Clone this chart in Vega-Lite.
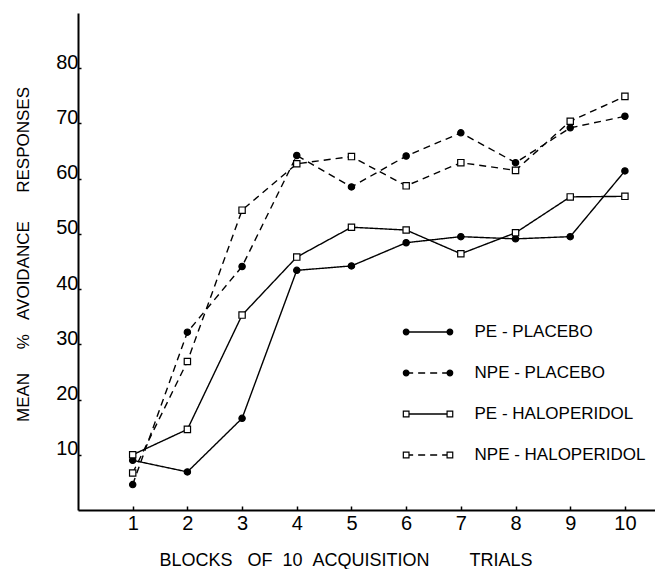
{
  "$schema": "https://vega.github.io/schema/vega-lite/v6.json",
  "width": 577,
  "height": 497,
  "autosize": {"type": "none"},
  "padding": {"left": 78, "top": 13, "right": 0, "bottom": 59},
  "background": "white",
  "config": {
    "view": {"stroke": null},
    "font": "Liberation Sans",
    "axis": {
      "grid": false,
      "domainColor": "black",
      "domainWidth": 2,
      "tickColor": "black",
      "tickWidth": 1.5,
      "labelColor": "black",
      "titleColor": "black",
      "labelFont": "Liberation Sans",
      "titleFont": "Liberation Sans",
      "titleFontWeight": "normal",
      "labelFlush": false,
      "labelOverlap": false
    }
  },
  "datasets": {
    "series": [
      {"block": 1, "group": "PE - PLACEBO", "value": 9.0},
      {"block": 2, "group": "PE - PLACEBO", "value": 6.9},
      {"block": 3, "group": "PE - PLACEBO", "value": 16.6},
      {"block": 4, "group": "PE - PLACEBO", "value": 43.4},
      {"block": 5, "group": "PE - PLACEBO", "value": 44.2},
      {"block": 6, "group": "PE - PLACEBO", "value": 48.4},
      {"block": 7, "group": "PE - PLACEBO", "value": 49.5},
      {"block": 8, "group": "PE - PLACEBO", "value": 49.1},
      {"block": 9, "group": "PE - PLACEBO", "value": 49.5},
      {"block": 10, "group": "PE - PLACEBO", "value": 61.4},
      {"block": 1, "group": "NPE - PLACEBO", "value": 4.6},
      {"block": 2, "group": "NPE - PLACEBO", "value": 32.2},
      {"block": 3, "group": "NPE - PLACEBO", "value": 44.1},
      {"block": 4, "group": "NPE - PLACEBO", "value": 64.2},
      {"block": 5, "group": "NPE - PLACEBO", "value": 58.5},
      {"block": 6, "group": "NPE - PLACEBO", "value": 64.1},
      {"block": 7, "group": "NPE - PLACEBO", "value": 68.3},
      {"block": 8, "group": "NPE - PLACEBO", "value": 62.9},
      {"block": 9, "group": "NPE - PLACEBO", "value": 69.2},
      {"block": 10, "group": "NPE - PLACEBO", "value": 71.3},
      {"block": 1, "group": "PE - HALOPERIDOL", "value": 10.0},
      {"block": 2, "group": "PE - HALOPERIDOL", "value": 14.6},
      {"block": 3, "group": "PE - HALOPERIDOL", "value": 35.3},
      {"block": 4, "group": "PE - HALOPERIDOL", "value": 45.8},
      {"block": 5, "group": "PE - HALOPERIDOL", "value": 51.2},
      {"block": 6, "group": "PE - HALOPERIDOL", "value": 50.7},
      {"block": 7, "group": "PE - HALOPERIDOL", "value": 46.4},
      {"block": 8, "group": "PE - HALOPERIDOL", "value": 50.2},
      {"block": 9, "group": "PE - HALOPERIDOL", "value": 56.7},
      {"block": 10, "group": "PE - HALOPERIDOL", "value": 56.8},
      {"block": 1, "group": "NPE - HALOPERIDOL", "value": 6.7},
      {"block": 2, "group": "NPE - HALOPERIDOL", "value": 26.9},
      {"block": 3, "group": "NPE - HALOPERIDOL", "value": 54.3},
      {"block": 4, "group": "NPE - HALOPERIDOL", "value": 62.7},
      {"block": 5, "group": "NPE - HALOPERIDOL", "value": 64.0},
      {"block": 6, "group": "NPE - HALOPERIDOL", "value": 58.7},
      {"block": 7, "group": "NPE - HALOPERIDOL", "value": 62.9},
      {"block": 8, "group": "NPE - HALOPERIDOL", "value": 61.5},
      {"block": 9, "group": "NPE - HALOPERIDOL", "value": 70.4},
      {"block": 10, "group": "NPE - HALOPERIDOL", "value": 74.9}
    ],
    "legend": [
      {"group": "PE - PLACEBO", "rank": 1},
      {"group": "NPE - PLACEBO", "rank": 2},
      {"group": "PE - HALOPERIDOL", "rank": 3},
      {"group": "NPE - HALOPERIDOL", "rank": 4}
    ]
  },
  "resolve": {"scale": {"y": "independent"}},
  "layer": [
    {
      "data": {"name": "series"},
      "layer": [
        {
          "mark": {"type": "line", "color": "black", "strokeWidth": 1.4},
          "encoding": {
            "x": {
              "field": "block", "type": "quantitative",
              "scale": {"domain": [0, 10.55], "nice": false, "zero": false},
              "axis": {
                "values": [1, 2, 3, 4, 5, 6, 7, 8, 9, 10],
                "format": "d",
                "labelFontSize": 20,
                "labelBaseline": "alphabetic",
                "labelPadding": 23,
                "tickSize": -4,
                "title": "BLOCKS\u00a0\u00a0\u00a0OF\u00a0\u00a010\u00a0\u00a0ACQUISITION\u00a0\u00a0\u00a0\u00a0\u00a0\u00a0\u00a0\u00a0TRIALS",
                "titleFontSize": 18,
                "titleAnchor": "start",
                "titleAlign": "left",
                "titleBaseline": "alphabetic",
                "titleX": 81,
                "titleY": 55
              }
            },
            "y": {
              "field": "value", "type": "quantitative",
              "scale": {"domain": [0, 90], "nice": false, "zero": false},
              "axis": {
                "values": [10, 20, 30, 40, 50, 60, 70, 80],
                "labelFontSize": 20,
                "labelBaseline": "alphabetic",
                "labelPadding": 3,
                "tickSize": -3,
                "title": "MEAN\u00a0\u00a0\u00a0\u00a0\u00a0%\u00a0\u00a0\u00a0AVOIDANCE\u00a0\u00a0\u00a0\u00a0\u00a0\u00a0RESPONSES",
                "titleFontSize": 17,
                "titleAngle": -90,
                "titleAlign": "center",
                "titleBaseline": "alphabetic",
                "titleX": -50,
                "titleY": 241
              }
            },
            "detail": {"field": "group", "type": "nominal"},
            "strokeDash": {
              "field": "group", "type": "nominal",
              "scale": {
                "domain": ["PE - PLACEBO", "NPE - PLACEBO", "PE - HALOPERIDOL", "NPE - HALOPERIDOL"],
                "range": [[1, 0], [7, 5], [1, 0], [7, 5]]
              },
              "legend": null
            }
          }
        },
        {
          "mark": {"type": "point", "filled": true, "stroke": "black", "strokeWidth": 1.2, "size": 40, "opacity": 1},
          "encoding": {
            "x": {"field": "block", "type": "quantitative"},
            "y": {"field": "value", "type": "quantitative"},
            "shape": {
              "field": "group", "type": "nominal",
              "scale": {
                "domain": ["PE - PLACEBO", "NPE - PLACEBO", "PE - HALOPERIDOL", "NPE - HALOPERIDOL"],
                "range": ["circle", "circle", "square", "square"]
              },
              "legend": null
            },
            "fill": {
              "field": "group", "type": "nominal",
              "scale": {
                "domain": ["PE - PLACEBO", "NPE - PLACEBO", "PE - HALOPERIDOL", "NPE - HALOPERIDOL"],
                "range": ["black", "black", "white", "white"]
              },
              "legend": null
            }
          }
        }
      ]
    },
    {
      "data": {"name": "legend"},
      "layer": [
        {
          "mark": {"type": "rule", "color": "black", "strokeWidth": 1.4},
          "encoding": {
            "x": {"datum": 6, "type": "quantitative"},
            "x2": {"datum": 6.8},
            "y": {"field": "rank", "type": "quantitative", "scale": {"domain": [-6.78, 5.34], "reverse": true, "nice": false, "zero": false}, "axis": null},
            "strokeDash": {"field": "group", "type": "nominal", "legend": null}
          }
        },
        {
          "mark": {"type": "point", "filled": true, "stroke": "black", "strokeWidth": 1.2, "size": 32, "opacity": 1},
          "encoding": {
            "x": {"datum": 6, "type": "quantitative"},
            "y": {"field": "rank", "type": "quantitative", "axis": null},
            "shape": {"field": "group", "type": "nominal", "legend": null},
            "fill": {"field": "group", "type": "nominal", "legend": null}
          }
        },
        {
          "mark": {"type": "point", "filled": true, "stroke": "black", "strokeWidth": 1.2, "size": 32, "opacity": 1},
          "encoding": {
            "x": {"datum": 6.8, "type": "quantitative"},
            "y": {"field": "rank", "type": "quantitative", "axis": null},
            "shape": {"field": "group", "type": "nominal", "legend": null},
            "fill": {"field": "group", "type": "nominal", "legend": null}
          }
        },
        {
          "mark": {"type": "text", "align": "left", "baseline": "middle", "fontSize": 17, "font": "Liberation Sans", "color": "black"},
          "encoding": {
            "x": {"datum": 7.25, "type": "quantitative"},
            "y": {"field": "rank", "type": "quantitative", "axis": null},
            "text": {"field": "group", "type": "nominal"}
          }
        }
      ]
    }
  ]
}
